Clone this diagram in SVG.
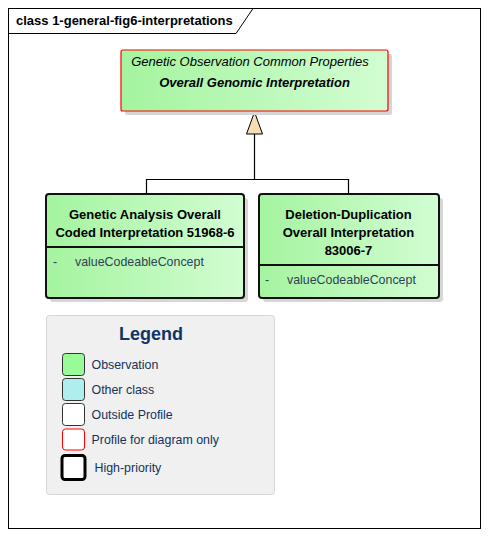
<svg xmlns="http://www.w3.org/2000/svg" width="488" height="537" viewBox="0 0 488 537">
<style>
.t{font-family:"Liberation Sans",Arial,sans-serif}
.ttl{font-size:13px;font-weight:bold;fill:#000;text-anchor:middle}
.att{font-size:12.4px;fill:#2E4256}
.lg{font-size:12.4px;fill:#12335E}
.box{stroke:#111;stroke-width:2}
.sh{fill:#D6D6D6}
.conn{stroke:#000;stroke-width:1.2;fill:none}
.sw{stroke:#333;stroke-width:1}
</style>
<defs>
<linearGradient id="gr" x1="0" y1="0" x2="1" y2="0">
<stop offset="0" stop-color="#A4F49F"/>
<stop offset="1" stop-color="#D2FDD2"/>
</linearGradient>
</defs>
<rect width="488" height="537" fill="#fff"/>
<g id="frame">
<rect x="8.5" y="8.5" width="472" height="520" fill="none" stroke="#000" stroke-width="1"/>
<path d="M8.5,33.5 H236 L253,8.5" fill="none" stroke="#000" stroke-width="1"/>
<text class="t" x="16" y="25" font-size="13px" font-weight="bold" fill="#000">class 1-general-fig6-interpretations</text>
</g>
<g id="connectors">
<path class="conn" d="M146.5,194 V179.5 H348.5 V194"/>
<path class="conn" d="M254.5,179.5 V134"/>
<polygon points="254.5,112 246.5,134 262.5,134" fill="#F6DDB4" stroke="#000" stroke-width="1"/>
</g>
<g id="node-overall">
<rect class="sh" x="125" y="54" width="267" height="61" rx="2"/>
<rect x="121" y="50" width="267" height="61" rx="2" fill="url(#gr)" stroke="#F00" stroke-width="1.2"/>
<text class="t" x="250" y="66" font-size="13px" font-style="italic" text-anchor="middle" fill="#000">Genetic Observation Common Properties</text>
<text class="t" x="254.5" y="87" font-size="13px" font-style="italic" font-weight="bold" text-anchor="middle" fill="#000">Overall Genomic Interpretation</text>
</g>
<g id="node-genetic-analysis">
<rect class="sh" x="50" y="198" width="198" height="104" rx="3"/>
<rect class="box" x="46" y="194" width="198" height="104" rx="3" fill="url(#gr)"/>
<line x1="46" y1="247" x2="244" y2="247" stroke="#111" stroke-width="2"/>
<text class="t ttl" x="145" y="219">Genetic Analysis Overall</text>
<text class="t ttl" x="145" y="237">Coded Interpretation 51968-6</text>
<text class="t att" x="53" y="266">-</text>
<text class="t att" x="75" y="266">valueCodeableConcept</text>
</g>
<g id="node-deletion-duplication">
<rect class="sh" x="263" y="198" width="180" height="104" rx="3"/>
<rect class="box" x="259" y="194" width="180" height="104" rx="3" fill="url(#gr)"/>
<line x1="259" y1="265" x2="439" y2="265" stroke="#111" stroke-width="2"/>
<text class="t ttl" x="348.5" y="219">Deletion-Duplication</text>
<text class="t ttl" x="348.5" y="237">Overall Interpretation</text>
<text class="t ttl" x="348.5" y="255">83006-7</text>
<text class="t att" x="265" y="284">-</text>
<text class="t att" x="287" y="284">valueCodeableConcept</text>
</g>
<g id="legend">
<rect x="46.5" y="315.5" width="228" height="179" rx="3" fill="#F0F0F0" stroke="#D6D6D6" stroke-width="1"/>
<text class="t" x="151" y="340" font-size="18px" font-weight="bold" fill="#0E3566" text-anchor="middle">Legend</text>
<rect class="sw" x="62.5" y="353.5" width="22" height="22" rx="3" fill="#98FB98"/>
<text class="t lg" x="91.5" y="369">Observation</text>
<rect class="sw" x="62.5" y="378.5" width="22" height="22" rx="3" fill="#AFEEEE"/>
<text class="t lg" x="91.5" y="394">Other class</text>
<rect class="sw" x="62.5" y="403.5" width="22" height="22" rx="3" fill="#fff"/>
<text class="t lg" x="91.5" y="419">Outside Profile</text>
<rect x="62.5" y="429" width="22" height="21" rx="3" fill="#fff" stroke="#F00" stroke-width="1"/>
<text class="t lg" x="91.5" y="444">Profile for diagram only</text>
<rect x="62" y="455.5" width="23" height="24" rx="3" fill="#fff" stroke="#000" stroke-width="3"/>
<text class="t lg" x="94.5" y="472">High-priority</text>
</g>
</svg>
